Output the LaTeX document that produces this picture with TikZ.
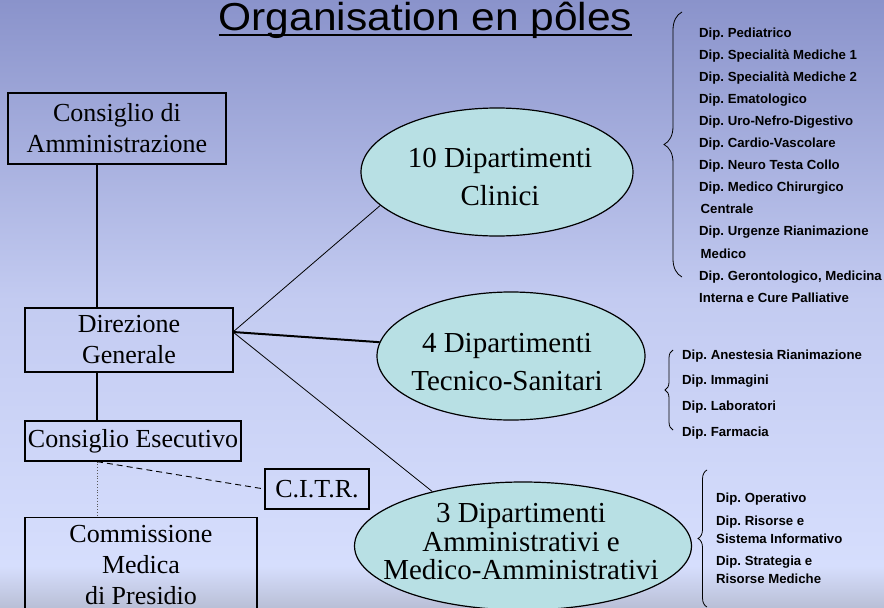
\documentclass[tikz,border=0pt]{standalone}
\usepackage{fontspec}
\setmainfont{Liberation Serif}
\newfontfamily\arialfont{Liberation Sans}
\newfontfamily\titlefont[FakeStretch=1.09]{Liberation Sans}
\usetikzlibrary{shapes.geometric,decorations.pathreplacing}

\definecolor{bgtop}{HTML}{8A93CB}
\definecolor{bgmid}{HTML}{C3CBF1}
\definecolor{bglow}{HTML}{D6DEFD}
\definecolor{bgband}{HTML}{B9BFD6}
\definecolor{polefill}{HTML}{B8E0E4}

\begin{document}
\begin{tikzpicture}[x=1pt, y=-1pt,
  box/.style={draw, line width=1.2pt, align=center, inner sep=0pt, font=\fontsize{26}{31}\selectfont},
  pole/.style={ellipse, draw, line width=1.2pt, fill=polefill, inner sep=0pt},
  poletext/.style={align=center, inner sep=0pt, font=\fontsize{29}{38}\selectfont},
  item/.style={anchor=base west, inner sep=0pt, font=\arialfont\bfseries\frenchspacing\fontsize{13.2}{15}\selectfont},
  curly/.style={decorate, decoration={brace, amplitude=#1}, line width=0.8pt}]
  \useasboundingbox (0,0) rectangle (884,608);
  \clip (0,0) rectangle (884,608);
  % Background
  \shade[top color=bgtop, bottom color=bgmid] (0,0) rectangle (884,300);
  \shade[top color=bgmid, bottom color=bglow] (0,300) rectangle (884,566);
  \shade[top color=bglow, bottom color=bgband] (0,566) rectangle (884,608);
  % Title
  \node[anchor=base, inner sep=0pt, font=\titlefont\fontsize{39}{46}\selectfont] (title) at (425.5,30.5) {Organisation en pôles};
  \draw[line width=2.5pt] ([yshift=-4.5pt]title.base west) -- ([yshift=-4.5pt]title.base east);
  % Governance
  \coordinate (spine) at (97,0);
  \node[box, minimum width=218pt, minimum height=71pt] (cda) at (117,128.5) {Consiglio di\\Amministrazione};
  \node[box, minimum width=208pt, minimum height=64pt] (dg) at (129,340) {Direzione\\Generale};
  \node[box, minimum width=216pt, minimum height=40pt] (ce) at (133,441) {Consiglio Esecutivo};
  \node[box, minimum width=104pt, minimum height=40pt] (citr) at (317,489) {C.I.T.R.};
  \node[box, minimum width=232pt, minimum height=94pt, anchor=north] (cmp) at (141,517) {Commissione\\Medica\\di Presidio};
  \draw[line width=2pt] (cda.south -| spine) -- (dg.north -| spine);
  \draw[line width=2pt] (dg.south -| spine) -- (ce.north -| spine);
  \draw[gray!70!black, dotted, line width=0.8pt] (ce.south -| spine) -- (cmp.north -| spine);
  \draw[dash pattern=on 6pt off 4pt, line width=0.9pt] (ce.south -| spine) -- (citr.west);
  % Poles
  \node[pole, minimum width=272pt, minimum height=128pt] (clin) at (497,172) {};
  \node[poletext] (clin-t) at (500,177) {10 Dipartimenti\\Clinici};
  \node[pole, minimum width=268pt, minimum height=128pt] (tecn) at (511,356) {};
  \node[poletext] (tecn-t) at (507,362) {4 Dipartimenti\\Tecnico-Sanitari};
  \node[pole, minimum width=337pt, minimum height=128pt] (amm) at (523,546) {};
  \node[poletext, font=\fontsize{29}{28.5}\selectfont] (amm-t) at (521,542) {3 Dipartimenti\\Amministrativi e\\Medico-Amministrativi};
  \coordinate (hub) at (233,332);
  \draw[line width=0.8pt] (hub) -- (clin.196);
  \draw[line width=2pt] (hub) -- (tecn.174);
  \draw[line width=0.8pt] (hub) -- (amm.149);
  % Departments
  \foreach \t [count=\i from 0] in {Dip. Pediatrico, Dip. Specialità Mediche 1, Dip. Specialità Mediche 2,
      Dip. Ematologico, Dip. Uro-Nefro-Digestivo, Dip. Cardio-Vascolare, Dip. Neuro Testa Collo,
      Dip. Medico Chirurgico, \hspace{1.5pt}Centrale, Dip. Urgenze Rianimazione, \hspace{1.5pt}Medico,
      {Dip. Gerontologico, Medicina}, Interna e Cure Palliative}
    \node[item] (clin-\i) at (699,37+22.1*\i) {\t};
  \foreach \t [count=\i from 0] in {Dip. Anestesia Rianimazione, Dip. Immagini, Dip. Laboratori, Dip. Farmacia}
    \node[item] (tecn-\i) at (682,359+25.7*\i) {\t};
  \foreach \t/\y [count=\i from 0] in {Dip. Operativo/502, Dip. Risorse e/525, Sistema Informativo/543,
      Dip. Strategia e/565, Risorse Mediche/583}
    \node[item] (amm-\i) at (716,\y) {\t};
  \draw[curly=18pt] (682,277) -- (682,12);
  \draw[curly=8pt] (673,430) -- (673,350);
  \draw[curly=9pt] (707,607) -- (707,470);
\end{tikzpicture}
\end{document}
